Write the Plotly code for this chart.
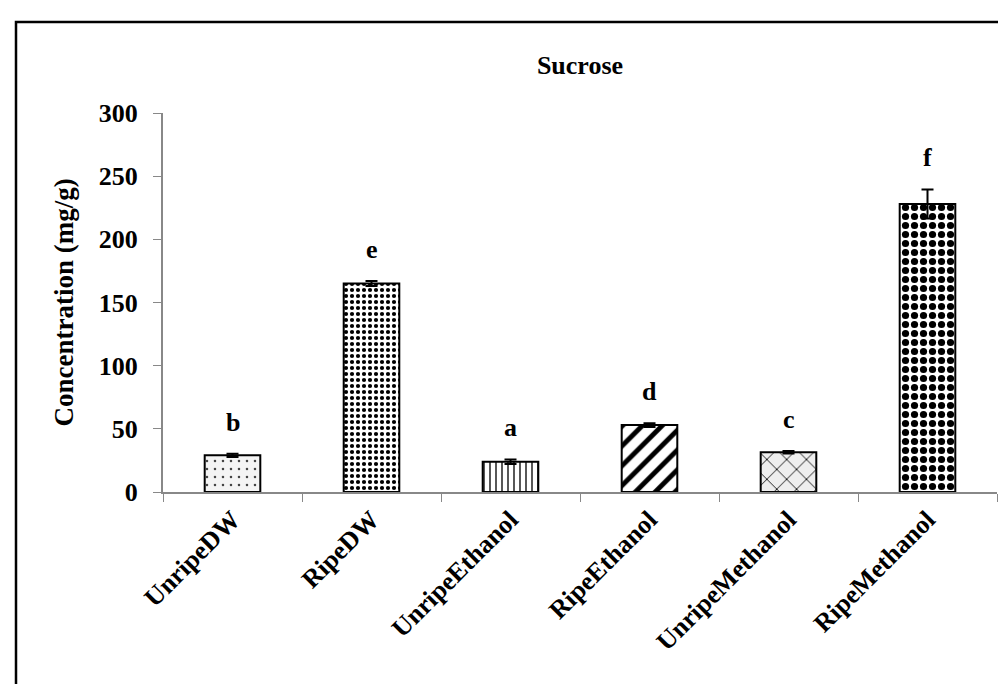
import plotly.graph_objects as go

categories = ["UnripeDW", "RipeDW", "UnripeEthanol", "RipeEthanol", "UnripeMethanol", "RipeMethanol"]
values = [29, 165, 24, 53, 31.5, 228]
errors = [1.2, 2.0, 1.8, 1.5, 1.0, 11.5]
letters = ["b", "e", "a", "d", "c", "f"]
y_ticks = [0, 50, 100, 150, 200, 250, 300]

shapes_pat = [".", ".", "|", "/", "x", "."]
pat_size = [8, 6, 6, 14, 14, 9]
pat_solid = [0.08, 0.38, 0.22, 0.35, 0.12, 0.5]
pat_fg = ["#444444", "black", "black", "black", "black", "black"]
pat_bg = ["#f4f4f4", "white", "white", "white", "#eeeeee", "white"]

FONT = "Liberation Serif"

L, R, T, B = 155, 17, 105, 200
W, H = 1006, 684
pw, ph = W - L - R, H - T - B

fig = go.Figure()
fig.add_trace(go.Bar(
    x=categories, y=values,
    marker=dict(
        color="white",
        line=dict(color="black", width=2),
        pattern=dict(shape=shapes_pat, size=pat_size, solidity=pat_solid,
                     fgcolor=pat_fg, bgcolor=pat_bg, fillmode="replace"),
    ),
    error_y=dict(type="data", array=errors, visible=True, color="black", thickness=2, width=6),
    showlegend=False,
))

for c, v, e, t in zip(categories, values, errors, letters):
    fig.add_annotation(x=c, y=v + e, text="<b>%s</b>" % t, showarrow=False,
                       yanchor="bottom", yshift=15,
                       font=dict(family=FONT, size=26, color="black"))

fig.add_annotation(xref="paper", yref="paper", x=(55 - L) / pw, y=0.5,
                   text="<b>Concentration (mg/g)</b>", textangle=-90, showarrow=False,
                   xanchor="center", yanchor="middle",
                   font=dict(family=FONT, size=27, color="black"))

fig.add_shape(type="rect", xref="paper", yref="paper",
              x0=(8 - L) / pw, x1=(W + 20 - L) / pw,
              y0=-(B + 20) / ph, y1=(ph + T - 14) / ph,
              line=dict(color="black", width=2.5), fillcolor="rgba(0,0,0,0)", layer="below")

fig.update_layout(
    width=W, height=H,
    margin=dict(l=L, r=R, t=T, b=B, autoexpand=False),
    paper_bgcolor="white", plot_bgcolor="white",
    bargap=0.6,
    title=dict(text="<b>Sucrose</b>", x=(L + pw / 2) / W, xanchor="center",
               y=1 - 57 / H, yanchor="middle",
               font=dict(family=FONT, size=26, color="black")),
    font=dict(family=FONT, color="black"),
)
fig.update_xaxes(
    type="category", tickangle=-45, tickson="boundaries",
    ticks="outside", ticklen=8, tickcolor="#888888",
    showline=True, linecolor="#888888", linewidth=2,
    tickfont=dict(family=FONT, size=26, color="black"),
    showgrid=False,
)
fig.update_xaxes(ticktext=["<b>%s</b>" % c for c in categories], tickvals=categories)
fig.update_yaxes(
    range=[0, 300], tickvals=y_ticks, ticktext=["<b>%d</b>" % v for v in y_ticks],
    ticks="outside", ticklen=8, tickcolor="#888888",
    showline=True, linecolor="#888888", linewidth=2,
    tickfont=dict(family=FONT, size=26, color="black"),
    ticklabelstandoff=10,
    showgrid=False, zeroline=False,
)

fig.write_html("out.html")
